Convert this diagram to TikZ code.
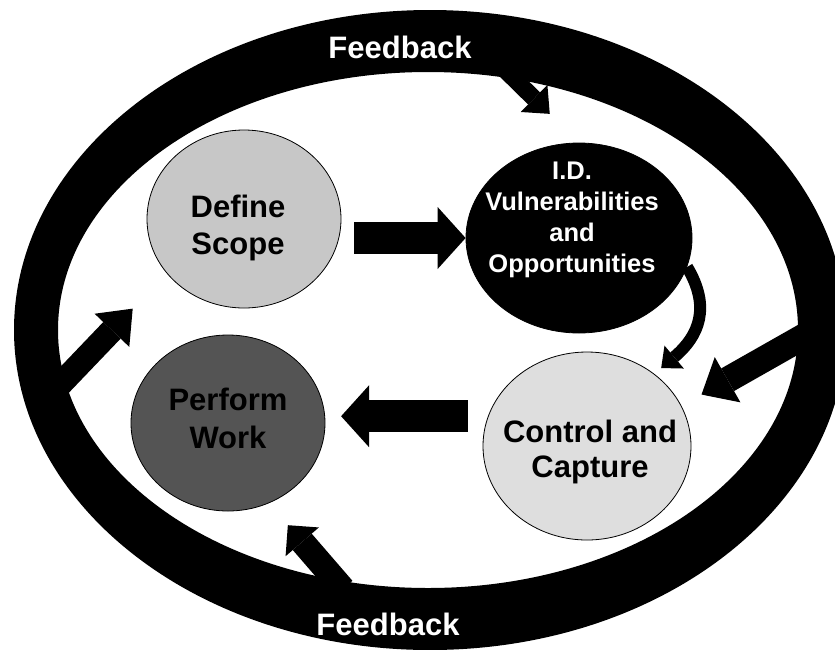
\documentclass[tikz,border=0pt]{standalone}
\usepackage{fontspec}
\setmainfont{Liberation Sans}
\usetikzlibrary{shapes.geometric, arrows.meta}
\definecolor{scopegray}{gray}{0.78}
\definecolor{capturegray}{gray}{0.87}
\definecolor{workgray}{gray}{0.33}
\tikzset{
  stage/.style={ellipse, draw=black, line width=0.8pt, inner sep=0pt},
  stagetext/.style={font=\bfseries\fontsize{31}{37}\selectfont, align=center},
  flow/.style={line width=32pt, -{Triangle[length=28pt, width=62pt, line width=0pt]}},
  feed/.style={line width=24pt, -{Triangle[length=30pt, width=48pt, line width=0pt]}},
}

\begin{document}
\begin{tikzpicture}[x=1pt, y=-1pt]
            \useasboundingbox (0,0) rectangle (835,649);
            \clip (0,0) rectangle (835,649);
            \fill[white] (0,0) rectangle (835,649);

            \coordinate (loopcentre) at (430,330);
            \coordinate (ring-top) at (497,62);
            \coordinate (ring-left) at (52,393);
            \coordinate (ring-right) at (810,333);
            \coordinate (ring-bottom) at (343,589);

            \fill[even odd rule] (loopcentre) ellipse [x radius=416pt, y radius=320pt]
              (428,330) ellipse [x radius=370pt, y radius=258pt];
            \node[stagetext, text=white] (feedback-top) at (400,47) {Feedback};
            \node[stagetext, text=white] (feedback-bottom) at (388,624) {Feedback};

            \node[stage, fill=scopegray, minimum width=194pt, minimum height=178pt] (scope) at (244,219) {};
            \node[stage, fill=black, minimum width=226pt, minimum height=190pt] (id) at (579,238) {};
            \node[stage, fill=capturegray, minimum width=208pt, minimum height=188pt] (cc) at (587,446) {};
            \node[stage, fill=workgray, minimum width=194pt, minimum height=176pt] (pw) at (228,423) {};

            \node[stagetext] (scope-label) at (238,228) {Define\\Scope};
            \node[stagetext, text=white, font=\bfseries\fontsize{25.5}{31}\selectfont] (id-label) at (572,220)
              {I.D.\\Vulnerabilities\\and\\Opportunities};
            \node[stagetext, font=\bfseries\fontsize{31}{35}\selectfont] (cc-label) at (590,452) {Control and\\Capture};
            \node[stagetext, font=\bfseries\fontsize{31}{38}\selectfont] (pw-label) at (228,418) {Perform\\Work};

            \draw[flow, shorten <=13pt] (scope.east |- id.west) -- (id.west);
            \draw[line width=12pt, -{Triangle[length=17pt, width=30pt, line width=0pt]}, shorten >=9pt]
              (id.-15) .. controls +(24,40) and +(45,-38) .. (cc.47);
            \draw[flow, shorten <=15pt, shorten >=16pt] (cc.west |- pw.4) -- (pw.4);

            \draw[feed, line width=17pt, -{Triangle[length=22pt, width=38pt, line width=0pt]}, shorten >=41pt]
              (ring-top) -- (id.north);
            \draw[feed, shorten >=49pt] (ring-left) -- (scope.215);
            \draw[feed, line width=26pt, -{Triangle[length=30pt, width=52pt, line width=0pt]}, shorten >=23pt]
              (ring-right) -- (cc.23);
            \draw[feed, line width=25pt, -{Triangle[length=22pt, width=44pt, line width=0pt]}, shorten >=29pt]
              (ring-bottom) -- (pw.-63);
\end{tikzpicture}
\end{document}
